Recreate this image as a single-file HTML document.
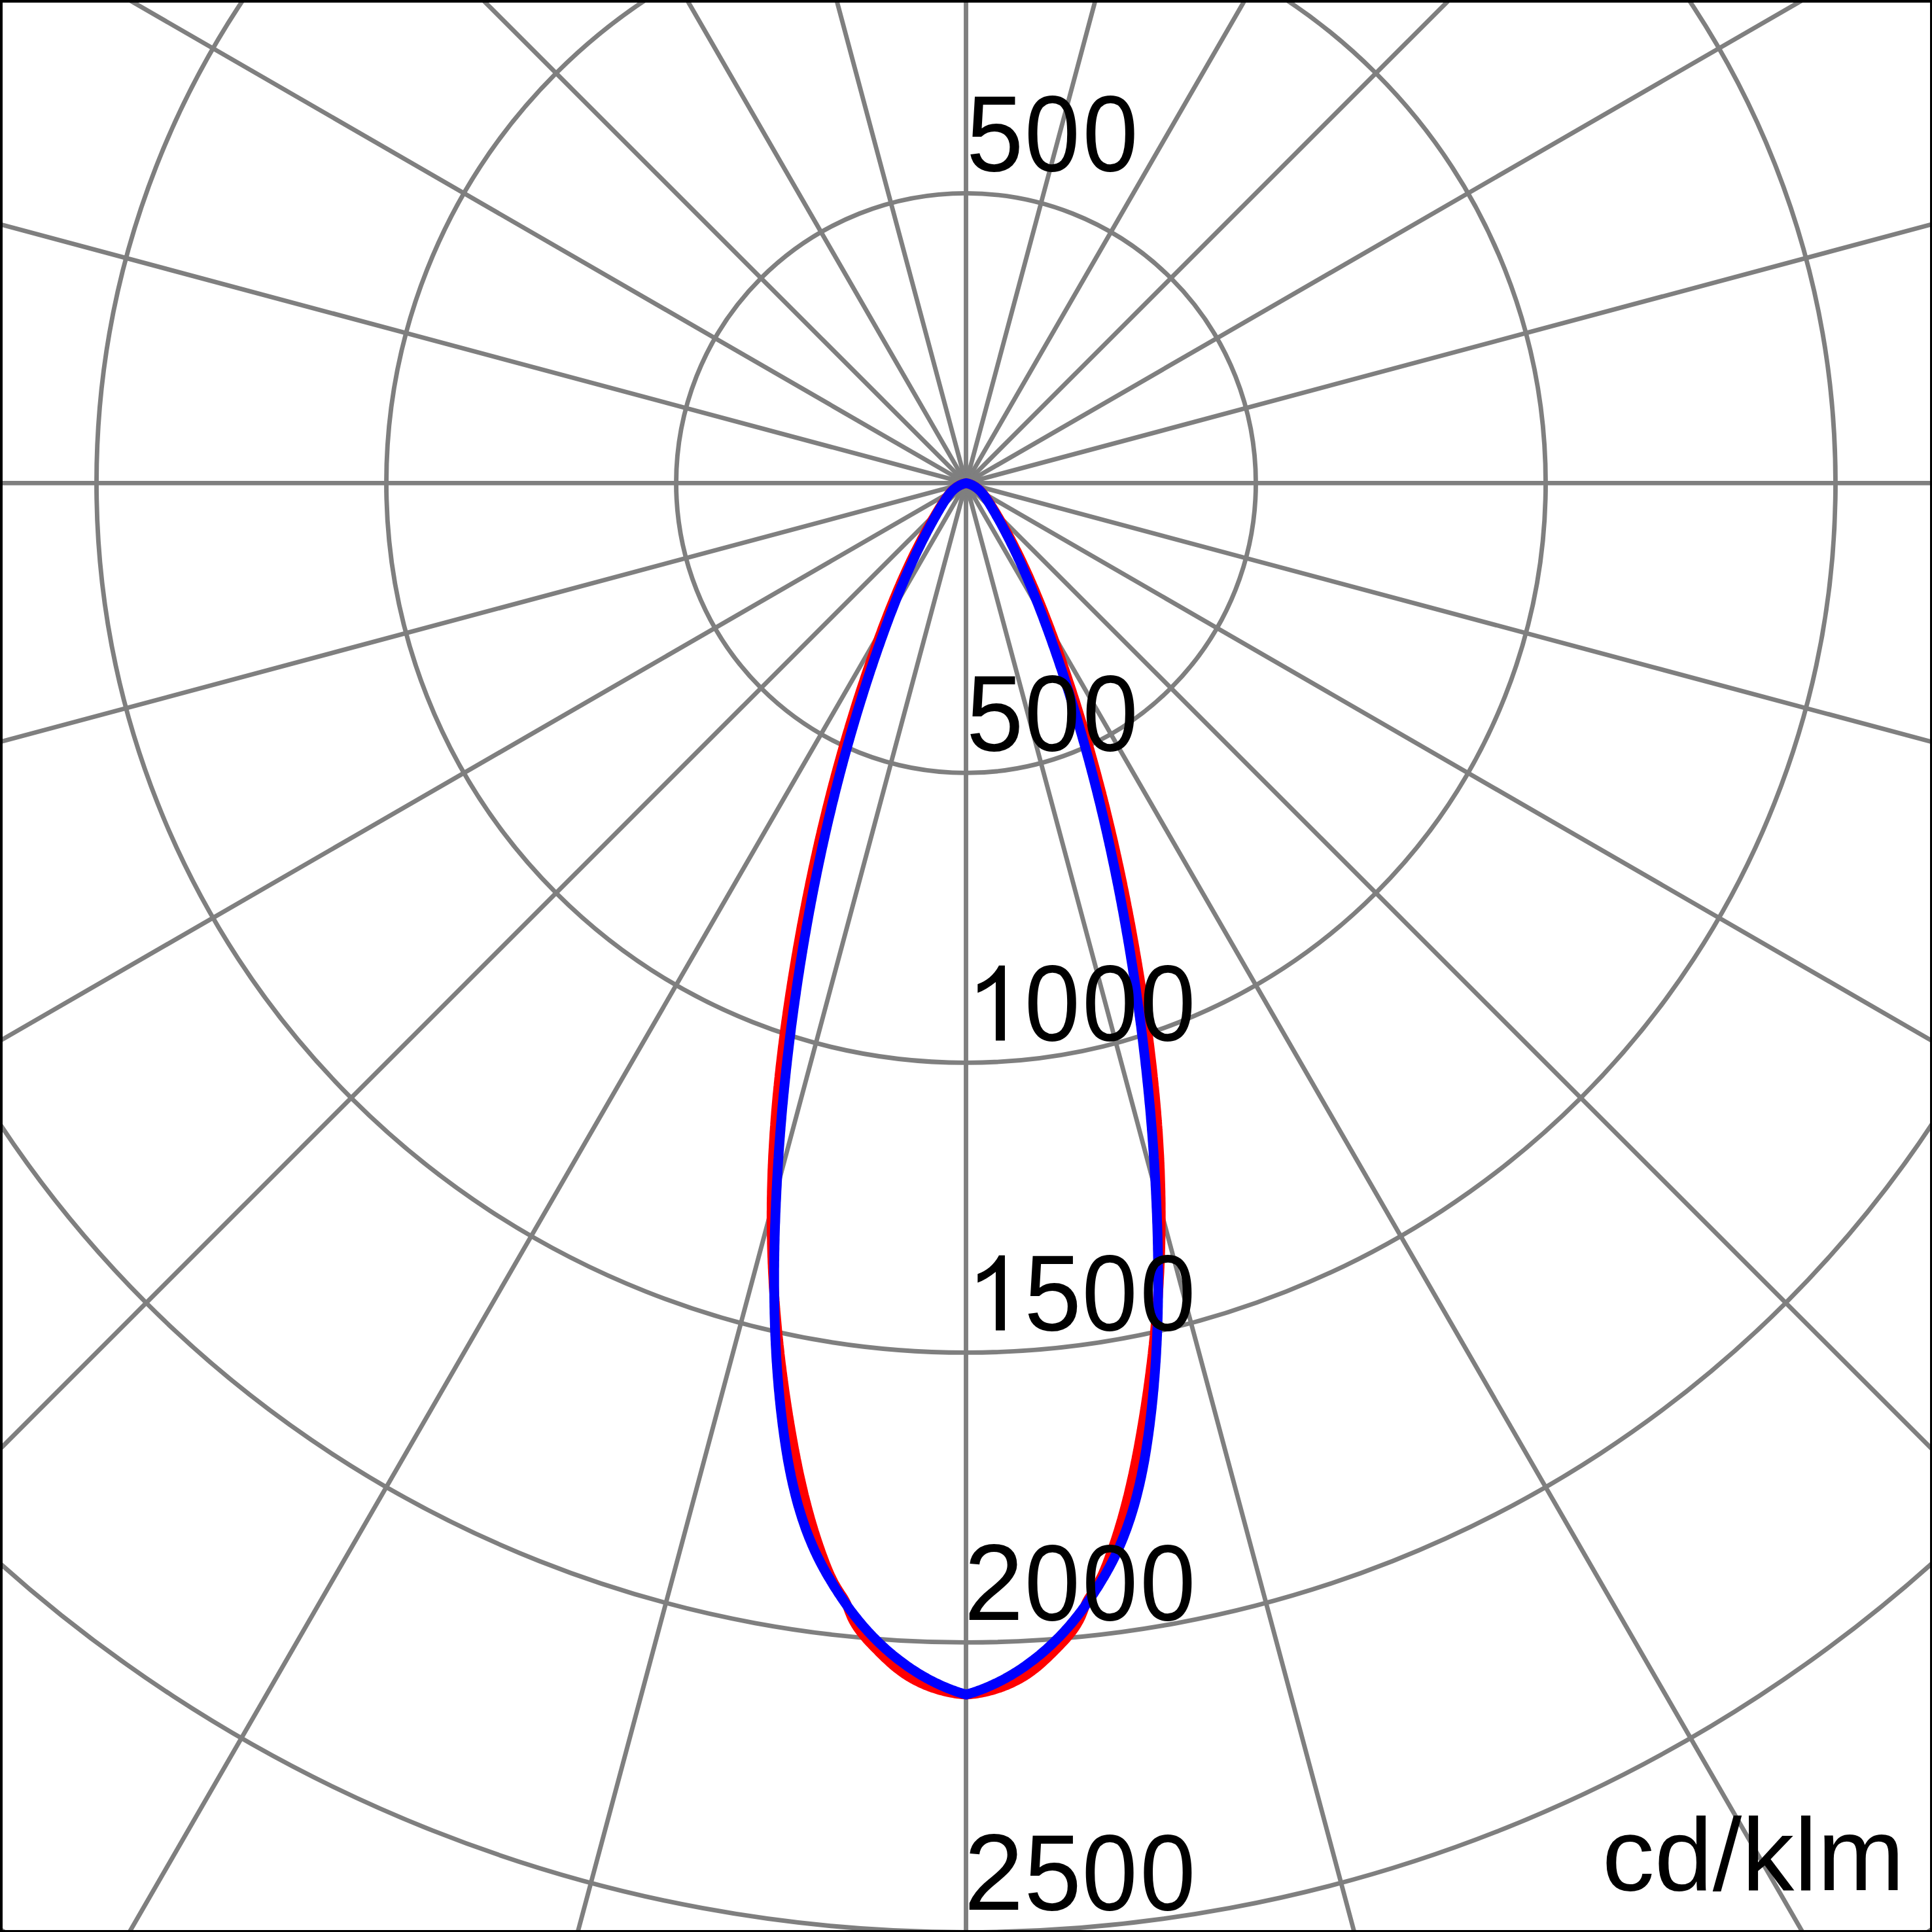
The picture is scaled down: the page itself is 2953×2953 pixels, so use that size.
<!DOCTYPE html>
<html><head><meta charset="utf-8"><style>
html,body{margin:0;padding:0;background:#fff;overflow:hidden;}
svg{display:block;}
text{font-family:"Liberation Sans",sans-serif;font-size:160px;fill:#000;}
</style></head><body>
<svg width="2953" height="2953" viewBox="0 0 2953 2953">
<rect x="0" y="0" width="2953" height="2953" fill="#fff"/>
<g fill="none" stroke="#7f7f7f" stroke-width="6.86">
<circle cx="1476.5" cy="738.4" r="443.00"/>
<circle cx="1476.5" cy="738.4" r="886.00"/>
<circle cx="1476.5" cy="738.4" r="1329.00"/>
<circle cx="1476.5" cy="738.4" r="1772.00"/>
<circle cx="1476.5" cy="738.4" r="2215.00"/>
<circle cx="1476.5" cy="738.4" r="2658.00"/>
<line x1="1476.5" y1="738.4" x2="1476.50" y2="3538.40"/>
<line x1="1476.5" y1="738.4" x2="2201.19" y2="3442.99"/>
<line x1="1476.5" y1="738.4" x2="2876.50" y2="3163.27"/>
<line x1="1476.5" y1="738.4" x2="3456.40" y2="2718.30"/>
<line x1="1476.5" y1="738.4" x2="3901.37" y2="2138.40"/>
<line x1="1476.5" y1="738.4" x2="4181.09" y2="1463.09"/>
<line x1="1476.5" y1="738.4" x2="4276.50" y2="738.40"/>
<line x1="1476.5" y1="738.4" x2="4181.09" y2="13.71"/>
<line x1="1476.5" y1="738.4" x2="3901.37" y2="-661.60"/>
<line x1="1476.5" y1="738.4" x2="3456.40" y2="-1241.50"/>
<line x1="1476.5" y1="738.4" x2="2876.50" y2="-1686.47"/>
<line x1="1476.5" y1="738.4" x2="2201.19" y2="-1966.19"/>
<line x1="1476.5" y1="738.4" x2="1476.50" y2="-2061.60"/>
<line x1="1476.5" y1="738.4" x2="751.81" y2="-1966.19"/>
<line x1="1476.5" y1="738.4" x2="76.50" y2="-1686.47"/>
<line x1="1476.5" y1="738.4" x2="-503.40" y2="-1241.50"/>
<line x1="1476.5" y1="738.4" x2="-948.37" y2="-661.60"/>
<line x1="1476.5" y1="738.4" x2="-1228.09" y2="13.71"/>
<line x1="1476.5" y1="738.4" x2="-1323.50" y2="738.40"/>
<line x1="1476.5" y1="738.4" x2="-1228.09" y2="1463.09"/>
<line x1="1476.5" y1="738.4" x2="-948.37" y2="2138.40"/>
<line x1="1476.5" y1="738.4" x2="-503.40" y2="2718.30"/>
<line x1="1476.5" y1="738.4" x2="76.50" y2="3163.27"/>
<line x1="1476.5" y1="738.4" x2="751.81" y2="3442.99"/>
</g>
<path d="M1476.8,738.4 L1473.3,739.3 L1470.0,740.4 L1467.0,741.7 L1464.1,743.3 L1461.3,745.1 L1458.7,747.1 L1456.3,749.2 L1453.9,751.5 L1451.7,754.0 L1449.6,756.5 L1447.5,759.2 L1445.5,761.9 L1443.6,764.7 L1441.8,767.6 L1439.9,770.5 L1438.1,773.4 L1436.3,776.3 L1434.5,779.2 L1432.7,782.1 L1430.9,785.1 L1429.2,788.0 L1427.5,790.9 L1425.7,793.9 L1424.0,796.9 L1422.3,799.8 L1420.7,802.8 L1419.0,805.8 L1417.3,808.7 L1415.7,811.7 L1414.1,814.7 L1412.4,817.7 L1410.8,820.7 L1409.2,823.7 L1407.7,826.7 L1406.1,829.7 L1404.5,832.8 L1403.0,835.8 L1401.5,838.8 L1399.9,841.9 L1398.4,844.9 L1396.9,847.9 L1395.4,851.0 L1394.0,854.0 L1392.5,857.1 L1391.0,860.2 L1389.6,863.2 L1388.2,866.3 L1386.7,869.4 L1385.3,872.5 L1383.9,875.6 L1382.5,878.7 L1381.1,881.7 L1379.8,884.8 L1378.4,887.9 L1377.0,891.1 L1375.7,894.2 L1374.3,897.3 L1373.0,900.4 L1371.7,903.5 L1370.4,906.6 L1369.1,909.8 L1367.8,912.9 L1366.5,916.0 L1365.2,919.2 L1363.9,922.3 L1362.6,925.5 L1361.4,928.6 L1360.1,931.7 L1358.9,934.9 L1357.6,938.1 L1356.4,941.2 L1355.2,944.4 L1354.0,947.5 L1352.7,950.7 L1351.5,953.9 L1350.3,957.0 L1349.1,960.2 L1347.9,963.4 L1346.8,966.6 L1345.6,969.7 L1344.4,972.9 L1343.2,976.1 L1342.1,979.3 L1340.9,982.5 L1339.8,985.6 L1338.6,988.8 L1337.5,992.0 L1336.3,995.2 L1335.2,998.4 L1334.1,1001.6 L1332.9,1004.8 L1331.8,1008.0 L1330.7,1011.2 L1329.6,1014.4 L1328.5,1017.6 L1327.4,1020.8 L1326.3,1024.0 L1325.2,1027.2 L1324.1,1030.4 L1323.0,1033.6 L1321.9,1036.8 L1320.9,1040.1 L1319.8,1043.3 L1318.7,1046.5 L1317.7,1049.7 L1316.6,1052.9 L1315.5,1056.1 L1314.5,1059.4 L1313.5,1062.6 L1312.4,1065.8 L1311.4,1069.0 L1310.3,1072.3 L1309.3,1075.5 L1308.3,1078.7 L1307.3,1082.0 L1306.3,1085.2 L1305.3,1088.4 L1304.3,1091.7 L1303.3,1094.9 L1302.3,1098.1 L1301.3,1101.4 L1300.3,1104.6 L1299.3,1107.9 L1298.3,1111.1 L1297.4,1114.4 L1296.4,1117.6 L1295.4,1120.9 L1294.5,1124.1 L1293.5,1127.4 L1292.6,1130.6 L1291.6,1133.9 L1290.7,1137.1 L1289.7,1140.4 L1288.8,1143.6 L1287.9,1146.9 L1286.9,1150.2 L1286.0,1153.4 L1285.1,1156.7 L1284.2,1159.9 L1283.3,1163.2 L1282.4,1166.5 L1281.5,1169.7 L1280.6,1173.0 L1279.7,1176.3 L1278.8,1179.6 L1277.9,1182.8 L1277.0,1186.1 L1276.2,1189.4 L1275.3,1192.7 L1274.4,1195.9 L1273.5,1199.2 L1272.7,1202.5 L1271.8,1205.8 L1271.0,1209.0 L1270.1,1212.3 L1269.3,1215.6 L1268.4,1218.9 L1267.6,1222.2 L1266.8,1225.5 L1266.0,1228.8 L1265.1,1232.1 L1264.3,1235.3 L1263.5,1238.6 L1262.7,1241.9 L1261.9,1245.2 L1261.1,1248.5 L1260.3,1251.8 L1259.5,1255.1 L1258.7,1258.4 L1257.9,1261.7 L1257.1,1265.0 L1256.3,1268.3 L1255.6,1271.6 L1254.8,1274.9 L1254.0,1278.2 L1253.2,1281.5 L1252.5,1284.8 L1251.7,1288.1 L1251.0,1291.5 L1250.2,1294.8 L1249.5,1298.1 L1248.7,1301.4 L1248.0,1304.7 L1247.3,1308.0 L1246.5,1311.3 L1245.8,1314.6 L1245.1,1317.9 L1244.4,1321.3 L1243.6,1324.6 L1242.9,1327.9 L1242.2,1331.2 L1241.5,1334.5 L1240.8,1337.9 L1240.1,1341.2 L1239.4,1344.5 L1238.7,1347.8 L1238.0,1351.1 L1237.4,1354.5 L1236.7,1357.8 L1236.0,1361.1 L1235.3,1364.5 L1234.7,1367.8 L1234.0,1371.1 L1233.3,1374.4 L1232.7,1377.8 L1232.0,1381.1 L1231.4,1384.4 L1230.7,1387.8 L1230.1,1391.1 L1229.4,1394.4 L1228.8,1397.8 L1228.2,1401.1 L1227.5,1404.4 L1226.9,1407.8 L1226.3,1411.1 L1225.6,1414.4 L1225.0,1417.8 L1224.4,1421.1 L1223.8,1424.5 L1223.2,1427.8 L1222.6,1431.1 L1222.0,1434.5 L1221.4,1437.8 L1220.8,1441.2 L1220.2,1444.5 L1219.6,1447.9 L1219.0,1451.2 L1218.5,1454.6 L1217.9,1457.9 L1217.3,1461.2 L1216.7,1464.6 L1216.2,1467.9 L1215.6,1471.3 L1215.0,1474.6 L1214.5,1478.0 L1213.9,1481.3 L1213.4,1484.7 L1212.8,1488.0 L1212.3,1491.4 L1211.7,1494.7 L1211.2,1498.1 L1210.7,1501.4 L1210.1,1504.8 L1209.6,1508.2 L1209.1,1511.5 L1208.6,1514.9 L1208.0,1518.2 L1207.5,1521.6 L1207.0,1524.9 L1206.5,1528.3 L1206.0,1531.6 L1205.5,1535.0 L1205.0,1538.4 L1204.5,1541.7 L1204.0,1545.1 L1203.5,1548.4 L1203.1,1551.8 L1202.6,1555.2 L1202.1,1558.5 L1201.6,1561.9 L1201.2,1565.2 L1200.7,1568.6 L1200.2,1572.0 L1199.8,1575.3 L1199.3,1578.7 L1198.9,1582.1 L1198.5,1585.4 L1198.0,1588.8 L1197.6,1592.1 L1197.2,1595.5 L1196.7,1598.9 L1196.3,1602.2 L1195.9,1605.6 L1195.5,1609.0 L1195.1,1612.3 L1194.7,1615.7 L1194.3,1619.1 L1193.9,1622.5 L1193.5,1625.8 L1193.1,1629.2 L1192.7,1632.6 L1192.4,1635.9 L1192.0,1639.3 L1191.6,1642.7 L1191.3,1646.0 L1190.9,1649.4 L1190.6,1652.8 L1190.2,1656.2 L1189.9,1659.5 L1189.5,1662.9 L1189.2,1666.3 L1188.9,1669.7 L1188.5,1673.0 L1188.2,1676.4 L1187.9,1679.8 L1187.6,1683.2 L1187.3,1686.5 L1187.0,1689.9 L1186.7,1693.3 L1186.4,1696.7 L1186.1,1700.0 L1185.9,1703.4 L1185.6,1706.8 L1185.3,1710.2 L1185.1,1713.5 L1184.8,1716.9 L1184.6,1720.3 L1184.3,1723.7 L1184.1,1727.1 L1183.8,1730.4 L1183.6,1733.8 L1183.4,1737.2 L1183.2,1740.6 L1183.0,1744.0 L1182.8,1747.3 L1182.6,1750.7 L1182.4,1754.1 L1182.2,1757.5 L1182.0,1760.9 L1181.8,1764.3 L1181.6,1767.6 L1181.5,1771.0 L1181.3,1774.4 L1181.2,1777.8 L1181.0,1781.2 L1180.9,1784.6 L1180.7,1787.9 L1180.6,1791.3 L1180.5,1794.7 L1180.4,1798.1 L1180.3,1801.5 L1180.2,1804.9 L1180.1,1808.2 L1180.0,1811.6 L1179.9,1815.0 L1179.8,1818.4 L1179.7,1821.8 L1179.7,1825.2 L1179.6,1828.6 L1179.5,1832.0 L1179.5,1835.3 L1179.4,1838.7 L1179.4,1842.1 L1179.4,1845.5 L1179.4,1848.9 L1179.3,1852.3 L1179.3,1855.7 L1179.3,1859.1 L1179.3,1862.4 L1179.4,1865.8 L1179.4,1869.2 L1179.4,1872.6 L1179.4,1876.0 L1179.5,1879.4 L1179.5,1882.8 L1179.6,1886.2 L1179.6,1889.6 L1179.7,1893.0 L1179.8,1896.3 L1179.8,1899.7 L1179.9,1903.1 L1180.0,1906.5 L1180.1,1909.9 L1180.2,1913.3 L1180.3,1916.7 L1180.4,1920.1 L1180.6,1923.5 L1180.7,1926.9 L1180.8,1930.2 L1181.0,1933.6 L1181.1,1937.0 L1181.3,1940.4 L1181.4,1943.8 L1181.6,1947.2 L1181.8,1950.6 L1182.0,1954.0 L1182.2,1957.4 L1182.3,1960.7 L1182.5,1964.1 L1182.7,1967.5 L1183.0,1970.9 L1183.2,1974.3 L1183.4,1977.7 L1183.6,1981.1 L1183.9,1984.5 L1184.1,1987.8 L1184.4,1991.2 L1184.6,1994.6 L1184.9,1998.0 L1185.1,2001.4 L1185.4,2004.8 L1185.7,2008.2 L1186.0,2011.5 L1186.3,2014.9 L1186.6,2018.3 L1186.9,2021.7 L1187.2,2025.1 L1187.5,2028.5 L1187.8,2031.8 L1188.1,2035.2 L1188.5,2038.6 L1188.8,2042.0 L1189.2,2045.4 L1189.5,2048.7 L1189.9,2052.1 L1190.2,2055.5 L1190.6,2058.9 L1191.0,2062.2 L1191.4,2065.6 L1191.7,2069.0 L1192.1,2072.4 L1192.5,2075.7 L1192.9,2079.1 L1193.3,2082.5 L1193.7,2085.9 L1194.2,2089.2 L1194.6,2092.6 L1195.0,2096.0 L1195.4,2099.3 L1195.9,2102.7 L1196.3,2106.1 L1196.8,2109.4 L1197.2,2112.8 L1197.7,2116.2 L1198.2,2119.5 L1198.6,2122.9 L1199.1,2126.3 L1199.6,2129.6 L1200.1,2133.0 L1200.6,2136.3 L1201.1,2139.7 L1201.6,2143.0 L1202.1,2146.4 L1202.6,2149.8 L1203.1,2153.1 L1203.7,2156.5 L1204.2,2159.8 L1204.7,2163.2 L1205.3,2166.5 L1205.8,2169.9 L1206.4,2173.2 L1206.9,2176.6 L1207.5,2179.9 L1208.1,2183.3 L1208.6,2186.6 L1209.2,2189.9 L1209.8,2193.3 L1210.4,2196.6 L1211.0,2200.0 L1211.6,2203.3 L1212.2,2206.6 L1212.8,2210.0 L1213.4,2213.3 L1214.0,2216.6 L1214.7,2220.0 L1215.3,2223.3 L1216.0,2226.6 L1216.6,2229.9 L1217.3,2233.3 L1218.0,2236.6 L1218.6,2239.9 L1219.3,2243.2 L1220.0,2246.5 L1220.7,2249.9 L1221.4,2253.2 L1222.1,2256.5 L1222.9,2259.8 L1223.6,2263.1 L1224.4,2266.4 L1225.1,2269.7 L1225.9,2273.0 L1226.7,2276.3 L1227.4,2279.6 L1228.2,2282.9 L1229.0,2286.2 L1229.9,2289.4 L1230.7,2292.7 L1231.5,2296.0 L1232.4,2299.3 L1233.2,2302.6 L1234.1,2305.8 L1235.0,2309.1 L1235.9,2312.4 L1236.8,2315.6 L1237.7,2318.9 L1238.6,2322.2 L1239.6,2325.4 L1240.5,2328.7 L1241.5,2331.9 L1242.5,2335.2 L1243.4,2338.4 L1244.4,2341.6 L1245.5,2344.9 L1246.5,2348.1 L1247.5,2351.3 L1248.6,2354.6 L1249.7,2357.8 L1250.7,2361.0 L1251.8,2364.2 L1253.0,2367.4 L1254.1,2370.6 L1255.2,2373.8 L1256.4,2377.0 L1257.6,2380.2 L1258.7,2383.4 L1260.0,2386.6 L1261.2,2389.8 L1262.4,2393.0 L1263.7,2396.1 L1265.0,2399.3 L1266.3,2402.4 L1267.7,2405.5 L1269.1,2408.6 L1270.6,2411.6 L1272.1,2414.7 L1273.6,2417.7 L1275.2,2420.7 L1276.9,2423.6 L1278.6,2426.6 L1280.3,2429.4 L1282.2,2432.3 L1284.0,2435.1 L1285.9,2437.9 L1287.7,2440.8 L1289.5,2443.6 L1291.2,2446.5 L1292.8,2449.5 L1294.2,2452.6 L1295.6,2455.7 L1296.8,2458.9 L1298.0,2462.1 L1299.2,2465.3 L1300.5,2468.5 L1301.8,2471.6 L1303.3,2474.6 L1304.8,2477.6 L1306.5,2480.6 L1308.2,2483.5 L1310.0,2486.3 L1311.9,2489.1 L1313.9,2491.8 L1315.9,2494.5 L1318.0,2497.1 L1320.1,2499.7 L1322.3,2502.3 L1324.5,2504.9 L1326.8,2507.4 L1329.1,2509.9 L1331.5,2512.4 L1333.8,2514.8 L1336.2,2517.3 L1338.6,2519.7 L1341.0,2522.1 L1343.3,2524.5 L1345.7,2526.9 L1348.2,2529.3 L1350.6,2531.7 L1353.0,2534.0 L1355.5,2536.3 L1358.0,2538.6 L1360.5,2540.9 L1363.0,2543.1 L1365.5,2545.3 L1368.1,2547.5 L1370.7,2549.6 L1373.4,2551.7 L1376.0,2553.7 L1378.8,2555.7 L1381.5,2557.6 L1384.3,2559.5 L1387.2,2561.3 L1390.1,2563.1 L1393.0,2564.8 L1395.9,2566.5 L1398.9,2568.1 L1402.0,2569.7 L1405.0,2571.2 L1408.1,2572.6 L1411.2,2574.0 L1414.3,2575.4 L1417.5,2576.6 L1420.7,2577.9 L1423.9,2579.1 L1427.1,2580.2 L1430.4,2581.2 L1433.6,2582.3 L1436.9,2583.2 L1440.2,2584.1 L1443.5,2584.9 L1446.8,2585.7 L1450.1,2586.5 L1453.4,2587.1 L1456.8,2587.7 L1460.1,2588.3 L1463.4,2588.8 L1466.8,2589.2 L1470.1,2589.6 L1473.4,2589.9 L1476.8,2590.2 L1480.1,2589.9 L1483.4,2589.6 L1486.7,2589.2 L1490.1,2588.8 L1493.4,2588.3 L1496.7,2587.7 L1500.1,2587.1 L1503.4,2586.5 L1506.7,2585.7 L1510.0,2584.9 L1513.3,2584.1 L1516.6,2583.2 L1519.9,2582.3 L1523.1,2581.2 L1526.4,2580.2 L1529.6,2579.1 L1532.8,2577.9 L1536.0,2576.6 L1539.2,2575.4 L1542.3,2574.0 L1545.4,2572.6 L1548.5,2571.2 L1551.5,2569.7 L1554.6,2568.1 L1557.6,2566.5 L1560.5,2564.8 L1563.4,2563.1 L1566.3,2561.3 L1569.2,2559.5 L1572.0,2557.6 L1574.7,2555.7 L1577.5,2553.7 L1580.1,2551.7 L1582.8,2549.6 L1585.4,2547.5 L1588.0,2545.3 L1590.5,2543.1 L1593.0,2540.9 L1595.5,2538.6 L1598.0,2536.3 L1600.5,2534.0 L1602.9,2531.7 L1605.3,2529.3 L1607.8,2526.9 L1610.2,2524.5 L1612.5,2522.1 L1614.9,2519.7 L1617.3,2517.3 L1619.7,2514.8 L1622.0,2512.4 L1624.4,2509.9 L1626.7,2507.4 L1629.0,2504.9 L1631.2,2502.3 L1633.4,2499.7 L1635.5,2497.1 L1637.6,2494.5 L1639.6,2491.8 L1641.6,2489.1 L1643.5,2486.3 L1645.3,2483.5 L1647.0,2480.6 L1648.7,2477.6 L1650.2,2474.6 L1651.7,2471.6 L1653.0,2468.5 L1654.3,2465.3 L1655.5,2462.1 L1656.7,2458.9 L1657.9,2455.7 L1659.3,2452.6 L1660.7,2449.5 L1662.3,2446.5 L1664.0,2443.6 L1665.8,2440.8 L1667.6,2437.9 L1669.5,2435.1 L1671.3,2432.3 L1673.2,2429.4 L1674.9,2426.6 L1676.6,2423.6 L1678.3,2420.7 L1679.9,2417.7 L1681.4,2414.7 L1682.9,2411.6 L1684.4,2408.6 L1685.8,2405.5 L1687.2,2402.4 L1688.5,2399.3 L1689.8,2396.1 L1691.1,2393.0 L1692.3,2389.8 L1693.5,2386.6 L1694.8,2383.4 L1695.9,2380.2 L1697.1,2377.0 L1698.3,2373.8 L1699.4,2370.6 L1700.5,2367.4 L1701.7,2364.2 L1702.8,2361.0 L1703.8,2357.8 L1704.9,2354.6 L1706.0,2351.3 L1707.0,2348.1 L1708.0,2344.9 L1709.1,2341.6 L1710.1,2338.4 L1711.0,2335.2 L1712.0,2331.9 L1713.0,2328.7 L1713.9,2325.4 L1714.9,2322.2 L1715.8,2318.9 L1716.7,2315.6 L1717.6,2312.4 L1718.5,2309.1 L1719.4,2305.8 L1720.3,2302.6 L1721.1,2299.3 L1722.0,2296.0 L1722.8,2292.7 L1723.6,2289.4 L1724.5,2286.2 L1725.3,2282.9 L1726.1,2279.6 L1726.8,2276.3 L1727.6,2273.0 L1728.4,2269.7 L1729.1,2266.4 L1729.9,2263.1 L1730.6,2259.8 L1731.4,2256.5 L1732.1,2253.2 L1732.8,2249.9 L1733.5,2246.5 L1734.2,2243.2 L1734.9,2239.9 L1735.5,2236.6 L1736.2,2233.3 L1736.9,2229.9 L1737.5,2226.6 L1738.2,2223.3 L1738.8,2220.0 L1739.5,2216.6 L1740.1,2213.3 L1740.7,2210.0 L1741.3,2206.6 L1741.9,2203.3 L1742.5,2200.0 L1743.1,2196.6 L1743.7,2193.3 L1744.3,2189.9 L1744.9,2186.6 L1745.4,2183.3 L1746.0,2179.9 L1746.6,2176.6 L1747.1,2173.2 L1747.7,2169.9 L1748.2,2166.5 L1748.8,2163.2 L1749.3,2159.8 L1749.8,2156.5 L1750.4,2153.1 L1750.9,2149.8 L1751.4,2146.4 L1751.9,2143.0 L1752.4,2139.7 L1752.9,2136.3 L1753.4,2133.0 L1753.9,2129.6 L1754.4,2126.3 L1754.9,2122.9 L1755.3,2119.5 L1755.8,2116.2 L1756.3,2112.8 L1756.7,2109.4 L1757.2,2106.1 L1757.6,2102.7 L1758.1,2099.3 L1758.5,2096.0 L1758.9,2092.6 L1759.3,2089.2 L1759.8,2085.9 L1760.2,2082.5 L1760.6,2079.1 L1761.0,2075.7 L1761.4,2072.4 L1761.8,2069.0 L1762.1,2065.6 L1762.5,2062.2 L1762.9,2058.9 L1763.3,2055.5 L1763.6,2052.1 L1764.0,2048.7 L1764.3,2045.4 L1764.7,2042.0 L1765.0,2038.6 L1765.4,2035.2 L1765.7,2031.8 L1766.0,2028.5 L1766.3,2025.1 L1766.6,2021.7 L1766.9,2018.3 L1767.2,2014.9 L1767.5,2011.5 L1767.8,2008.2 L1768.1,2004.8 L1768.4,2001.4 L1768.6,1998.0 L1768.9,1994.6 L1769.1,1991.2 L1769.4,1987.8 L1769.6,1984.5 L1769.9,1981.1 L1770.1,1977.7 L1770.3,1974.3 L1770.5,1970.9 L1770.8,1967.5 L1771.0,1964.1 L1771.2,1960.7 L1771.3,1957.4 L1771.5,1954.0 L1771.7,1950.6 L1771.9,1947.2 L1772.1,1943.8 L1772.2,1940.4 L1772.4,1937.0 L1772.5,1933.6 L1772.7,1930.2 L1772.8,1926.9 L1772.9,1923.5 L1773.1,1920.1 L1773.2,1916.7 L1773.3,1913.3 L1773.4,1909.9 L1773.5,1906.5 L1773.6,1903.1 L1773.7,1899.7 L1773.7,1896.3 L1773.8,1893.0 L1773.9,1889.6 L1773.9,1886.2 L1774.0,1882.8 L1774.0,1879.4 L1774.1,1876.0 L1774.1,1872.6 L1774.1,1869.2 L1774.1,1865.8 L1774.2,1862.4 L1774.2,1859.1 L1774.2,1855.7 L1774.2,1852.3 L1774.1,1848.9 L1774.1,1845.5 L1774.1,1842.1 L1774.1,1838.7 L1774.0,1835.3 L1774.0,1832.0 L1773.9,1828.6 L1773.8,1825.2 L1773.8,1821.8 L1773.7,1818.4 L1773.6,1815.0 L1773.5,1811.6 L1773.4,1808.2 L1773.3,1804.9 L1773.2,1801.5 L1773.1,1798.1 L1773.0,1794.7 L1772.9,1791.3 L1772.8,1787.9 L1772.6,1784.6 L1772.5,1781.2 L1772.3,1777.8 L1772.2,1774.4 L1772.0,1771.0 L1771.9,1767.6 L1771.7,1764.3 L1771.5,1760.9 L1771.3,1757.5 L1771.1,1754.1 L1770.9,1750.7 L1770.7,1747.3 L1770.5,1744.0 L1770.3,1740.6 L1770.1,1737.2 L1769.9,1733.8 L1769.7,1730.4 L1769.4,1727.1 L1769.2,1723.7 L1768.9,1720.3 L1768.7,1716.9 L1768.4,1713.5 L1768.2,1710.2 L1767.9,1706.8 L1767.6,1703.4 L1767.4,1700.0 L1767.1,1696.7 L1766.8,1693.3 L1766.5,1689.9 L1766.2,1686.5 L1765.9,1683.2 L1765.6,1679.8 L1765.3,1676.4 L1765.0,1673.0 L1764.6,1669.7 L1764.3,1666.3 L1764.0,1662.9 L1763.6,1659.5 L1763.3,1656.2 L1762.9,1652.8 L1762.6,1649.4 L1762.2,1646.0 L1761.9,1642.7 L1761.5,1639.3 L1761.1,1635.9 L1760.8,1632.6 L1760.4,1629.2 L1760.0,1625.8 L1759.6,1622.5 L1759.2,1619.1 L1758.8,1615.7 L1758.4,1612.3 L1758.0,1609.0 L1757.6,1605.6 L1757.2,1602.2 L1756.8,1598.9 L1756.3,1595.5 L1755.9,1592.1 L1755.5,1588.8 L1755.0,1585.4 L1754.6,1582.1 L1754.2,1578.7 L1753.7,1575.3 L1753.3,1572.0 L1752.8,1568.6 L1752.3,1565.2 L1751.9,1561.9 L1751.4,1558.5 L1750.9,1555.2 L1750.4,1551.8 L1750.0,1548.4 L1749.5,1545.1 L1749.0,1541.7 L1748.5,1538.4 L1748.0,1535.0 L1747.5,1531.6 L1747.0,1528.3 L1746.5,1524.9 L1746.0,1521.6 L1745.5,1518.2 L1744.9,1514.9 L1744.4,1511.5 L1743.9,1508.2 L1743.4,1504.8 L1742.8,1501.4 L1742.3,1498.1 L1741.8,1494.7 L1741.2,1491.4 L1740.7,1488.0 L1740.1,1484.7 L1739.6,1481.3 L1739.0,1478.0 L1738.5,1474.6 L1737.9,1471.3 L1737.3,1467.9 L1736.8,1464.6 L1736.2,1461.2 L1735.6,1457.9 L1735.0,1454.6 L1734.5,1451.2 L1733.9,1447.9 L1733.3,1444.5 L1732.7,1441.2 L1732.1,1437.8 L1731.5,1434.5 L1730.9,1431.1 L1730.3,1427.8 L1729.7,1424.5 L1729.1,1421.1 L1728.5,1417.8 L1727.9,1414.4 L1727.2,1411.1 L1726.6,1407.8 L1726.0,1404.4 L1725.3,1401.1 L1724.7,1397.8 L1724.1,1394.4 L1723.4,1391.1 L1722.8,1387.8 L1722.1,1384.4 L1721.5,1381.1 L1720.8,1377.8 L1720.2,1374.4 L1719.5,1371.1 L1718.8,1367.8 L1718.2,1364.5 L1717.5,1361.1 L1716.8,1357.8 L1716.1,1354.5 L1715.5,1351.1 L1714.8,1347.8 L1714.1,1344.5 L1713.4,1341.2 L1712.7,1337.9 L1712.0,1334.5 L1711.3,1331.2 L1710.6,1327.9 L1709.9,1324.6 L1709.1,1321.3 L1708.4,1317.9 L1707.7,1314.6 L1707.0,1311.3 L1706.2,1308.0 L1705.5,1304.7 L1704.8,1301.4 L1704.0,1298.1 L1703.3,1294.8 L1702.5,1291.5 L1701.8,1288.1 L1701.0,1284.8 L1700.3,1281.5 L1699.5,1278.2 L1698.7,1274.9 L1697.9,1271.6 L1697.2,1268.3 L1696.4,1265.0 L1695.6,1261.7 L1694.8,1258.4 L1694.0,1255.1 L1693.2,1251.8 L1692.4,1248.5 L1691.6,1245.2 L1690.8,1241.9 L1690.0,1238.6 L1689.2,1235.3 L1688.4,1232.1 L1687.5,1228.8 L1686.7,1225.5 L1685.9,1222.2 L1685.1,1218.9 L1684.2,1215.6 L1683.4,1212.3 L1682.5,1209.0 L1681.7,1205.8 L1680.8,1202.5 L1680.0,1199.2 L1679.1,1195.9 L1678.2,1192.7 L1677.3,1189.4 L1676.5,1186.1 L1675.6,1182.8 L1674.7,1179.6 L1673.8,1176.3 L1672.9,1173.0 L1672.0,1169.7 L1671.1,1166.5 L1670.2,1163.2 L1669.3,1159.9 L1668.4,1156.7 L1667.5,1153.4 L1666.6,1150.2 L1665.6,1146.9 L1664.7,1143.6 L1663.8,1140.4 L1662.8,1137.1 L1661.9,1133.9 L1660.9,1130.6 L1660.0,1127.4 L1659.0,1124.1 L1658.1,1120.9 L1657.1,1117.6 L1656.1,1114.4 L1655.2,1111.1 L1654.2,1107.9 L1653.2,1104.6 L1652.2,1101.4 L1651.2,1098.1 L1650.2,1094.9 L1649.2,1091.7 L1648.2,1088.4 L1647.2,1085.2 L1646.2,1082.0 L1645.2,1078.7 L1644.2,1075.5 L1643.2,1072.3 L1642.1,1069.0 L1641.1,1065.8 L1640.0,1062.6 L1639.0,1059.4 L1638.0,1056.1 L1636.9,1052.9 L1635.8,1049.7 L1634.8,1046.5 L1633.7,1043.3 L1632.6,1040.1 L1631.6,1036.8 L1630.5,1033.6 L1629.4,1030.4 L1628.3,1027.2 L1627.2,1024.0 L1626.1,1020.8 L1625.0,1017.6 L1623.9,1014.4 L1622.8,1011.2 L1621.7,1008.0 L1620.6,1004.8 L1619.4,1001.6 L1618.3,998.4 L1617.2,995.2 L1616.0,992.0 L1614.9,988.8 L1613.7,985.6 L1612.6,982.5 L1611.4,979.3 L1610.3,976.1 L1609.1,972.9 L1607.9,969.7 L1606.7,966.6 L1605.6,963.4 L1604.4,960.2 L1603.2,957.0 L1602.0,953.9 L1600.8,950.7 L1599.5,947.5 L1598.3,944.4 L1597.1,941.2 L1595.9,938.1 L1594.6,934.9 L1593.4,931.7 L1592.1,928.6 L1590.9,925.5 L1589.6,922.3 L1588.3,919.2 L1587.0,916.0 L1585.7,912.9 L1584.4,909.8 L1583.1,906.6 L1581.8,903.5 L1580.5,900.4 L1579.2,897.3 L1577.8,894.2 L1576.5,891.1 L1575.1,887.9 L1573.7,884.8 L1572.4,881.7 L1571.0,878.7 L1569.6,875.6 L1568.2,872.5 L1566.8,869.4 L1565.3,866.3 L1563.9,863.2 L1562.5,860.2 L1561.0,857.1 L1559.5,854.0 L1558.1,851.0 L1556.6,847.9 L1555.1,844.9 L1553.6,841.9 L1552.0,838.8 L1550.5,835.8 L1549.0,832.8 L1547.4,829.7 L1545.8,826.7 L1544.3,823.7 L1542.7,820.7 L1541.1,817.7 L1539.4,814.7 L1537.8,811.7 L1536.2,808.7 L1534.5,805.8 L1532.8,802.8 L1531.2,799.8 L1529.5,796.9 L1527.8,793.9 L1526.0,790.9 L1524.3,788.0 L1522.6,785.1 L1520.8,782.1 L1519.0,779.2 L1517.2,776.3 L1515.4,773.4 L1513.6,770.5 L1511.7,767.6 L1509.9,764.7 L1508.0,761.9 L1506.0,759.2 L1503.9,756.5 L1501.8,754.0 L1499.6,751.5 L1497.2,749.2 L1494.8,747.1 L1492.2,745.1 L1489.4,743.3 L1486.5,741.7 L1483.5,740.4 L1480.2,739.3 L1476.8,738.4" fill="none" stroke="#ff0000" stroke-width="14.9" stroke-linejoin="round" stroke-linecap="round"/>
<path d="M1476.8,738.4 L1473.3,739.3 L1470.0,740.4 L1467.0,741.8 L1464.1,743.4 L1461.4,745.2 L1458.9,747.2 L1456.4,749.4 L1454.2,751.7 L1452.0,754.2 L1449.9,756.8 L1447.9,759.4 L1446.0,762.2 L1444.2,765.0 L1442.4,767.9 L1440.6,770.8 L1438.8,773.7 L1437.1,776.6 L1435.4,779.6 L1433.6,782.5 L1431.9,785.4 L1430.3,788.4 L1428.6,791.3 L1426.9,794.3 L1425.3,797.3 L1423.6,800.2 L1422.0,803.2 L1420.4,806.2 L1418.8,809.2 L1417.2,812.2 L1415.7,815.2 L1414.1,818.2 L1412.6,821.2 L1411.0,824.2 L1409.5,827.2 L1408.0,830.3 L1406.5,833.3 L1405.0,836.3 L1403.5,839.4 L1402.0,842.4 L1400.6,845.5 L1399.1,848.5 L1397.7,851.6 L1396.3,854.7 L1394.8,857.7 L1393.4,860.8 L1392.0,863.9 L1390.6,867.0 L1389.3,870.0 L1387.9,873.1 L1386.5,876.2 L1385.2,879.3 L1383.8,882.4 L1382.5,885.5 L1381.2,888.6 L1379.9,891.8 L1378.5,894.9 L1377.2,898.0 L1376.0,901.1 L1374.7,904.2 L1373.4,907.4 L1372.1,910.5 L1370.9,913.6 L1369.6,916.8 L1368.4,919.9 L1367.1,923.1 L1365.9,926.2 L1364.7,929.4 L1363.5,932.5 L1362.2,935.7 L1361.0,938.8 L1359.8,942.0 L1358.6,945.2 L1357.5,948.3 L1356.3,951.5 L1355.1,954.7 L1353.9,957.8 L1352.8,961.0 L1351.6,964.2 L1350.5,967.4 L1349.3,970.6 L1348.2,973.7 L1347.0,976.9 L1345.9,980.1 L1344.8,983.3 L1343.7,986.5 L1342.5,989.7 L1341.4,992.9 L1340.3,996.1 L1339.2,999.3 L1338.1,1002.5 L1337.0,1005.7 L1335.9,1008.9 L1334.8,1012.1 L1333.8,1015.3 L1332.7,1018.5 L1331.6,1021.7 L1330.5,1024.9 L1329.5,1028.1 L1328.4,1031.3 L1327.4,1034.5 L1326.3,1037.7 L1325.3,1040.9 L1324.2,1044.1 L1323.2,1047.4 L1322.2,1050.6 L1321.1,1053.8 L1320.1,1057.0 L1319.1,1060.2 L1318.1,1063.5 L1317.1,1066.7 L1316.1,1069.9 L1315.1,1073.1 L1314.1,1076.4 L1313.1,1079.6 L1312.1,1082.8 L1311.1,1086.1 L1310.1,1089.3 L1309.1,1092.5 L1308.2,1095.8 L1307.2,1099.0 L1306.2,1102.2 L1305.3,1105.5 L1304.3,1108.7 L1303.4,1112.0 L1302.4,1115.2 L1301.5,1118.5 L1300.5,1121.7 L1299.6,1125.0 L1298.7,1128.2 L1297.8,1131.5 L1296.8,1134.7 L1295.9,1138.0 L1295.0,1141.2 L1294.1,1144.5 L1293.2,1147.7 L1292.3,1151.0 L1291.4,1154.2 L1290.5,1157.5 L1289.6,1160.8 L1288.7,1164.0 L1287.9,1167.3 L1287.0,1170.6 L1286.1,1173.8 L1285.3,1177.1 L1284.4,1180.4 L1283.5,1183.6 L1282.7,1186.9 L1281.8,1190.2 L1281.0,1193.4 L1280.1,1196.7 L1279.3,1200.0 L1278.5,1203.3 L1277.6,1206.5 L1276.8,1209.8 L1276.0,1213.1 L1275.2,1216.4 L1274.4,1219.6 L1273.6,1222.9 L1272.7,1226.2 L1271.9,1229.5 L1271.1,1232.8 L1270.4,1236.1 L1269.6,1239.4 L1268.8,1242.6 L1268.0,1245.9 L1267.2,1249.2 L1266.4,1252.5 L1265.7,1255.8 L1264.9,1259.1 L1264.1,1262.4 L1263.4,1265.7 L1262.6,1269.0 L1261.9,1272.3 L1261.1,1275.6 L1260.4,1278.9 L1259.7,1282.2 L1258.9,1285.5 L1258.2,1288.8 L1257.5,1292.1 L1256.7,1295.4 L1256.0,1298.7 L1255.3,1302.0 L1254.6,1305.3 L1253.9,1308.6 L1253.2,1311.9 L1252.5,1315.2 L1251.8,1318.5 L1251.1,1321.8 L1250.4,1325.1 L1249.7,1328.5 L1249.0,1331.8 L1248.3,1335.1 L1247.7,1338.4 L1247.0,1341.7 L1246.3,1345.0 L1245.7,1348.3 L1245.0,1351.6 L1244.3,1355.0 L1243.7,1358.3 L1243.0,1361.6 L1242.4,1364.9 L1241.7,1368.2 L1241.1,1371.6 L1240.5,1374.9 L1239.8,1378.2 L1239.2,1381.5 L1238.6,1384.9 L1238.0,1388.2 L1237.3,1391.5 L1236.7,1394.8 L1236.1,1398.2 L1235.5,1401.5 L1234.9,1404.8 L1234.3,1408.1 L1233.7,1411.5 L1233.1,1414.8 L1232.5,1418.1 L1232.0,1421.5 L1231.4,1424.8 L1230.8,1428.1 L1230.2,1431.5 L1229.6,1434.8 L1229.1,1438.1 L1228.5,1441.5 L1227.9,1444.8 L1227.4,1448.1 L1226.8,1451.5 L1226.3,1454.8 L1225.7,1458.1 L1225.2,1461.5 L1224.7,1464.8 L1224.1,1468.2 L1223.6,1471.5 L1223.0,1474.8 L1222.5,1478.2 L1222.0,1481.5 L1221.5,1484.9 L1221.0,1488.2 L1220.4,1491.5 L1219.9,1494.9 L1219.4,1498.2 L1218.9,1501.6 L1218.4,1504.9 L1217.9,1508.3 L1217.4,1511.6 L1216.9,1515.0 L1216.5,1518.3 L1216.0,1521.6 L1215.5,1525.0 L1215.0,1528.3 L1214.5,1531.7 L1214.1,1535.0 L1213.6,1538.4 L1213.1,1541.7 L1212.7,1545.1 L1212.2,1548.4 L1211.8,1551.8 L1211.3,1555.1 L1210.9,1558.5 L1210.4,1561.8 L1210.0,1565.2 L1209.5,1568.5 L1209.1,1571.9 L1208.7,1575.3 L1208.3,1578.6 L1207.8,1582.0 L1207.4,1585.3 L1207.0,1588.7 L1206.6,1592.0 L1206.2,1595.4 L1205.8,1598.7 L1205.4,1602.1 L1205.0,1605.5 L1204.6,1608.8 L1204.2,1612.2 L1203.8,1615.5 L1203.4,1618.9 L1203.0,1622.2 L1202.7,1625.6 L1202.3,1629.0 L1201.9,1632.3 L1201.5,1635.7 L1201.2,1639.0 L1200.8,1642.4 L1200.5,1645.8 L1200.1,1649.1 L1199.8,1652.5 L1199.4,1655.8 L1199.1,1659.2 L1198.7,1662.6 L1198.4,1665.9 L1198.1,1669.3 L1197.7,1672.7 L1197.4,1676.0 L1197.1,1679.4 L1196.8,1682.8 L1196.5,1686.1 L1196.1,1689.5 L1195.8,1692.9 L1195.5,1696.2 L1195.2,1699.6 L1194.9,1703.0 L1194.6,1706.3 L1194.4,1709.7 L1194.1,1713.1 L1193.8,1716.4 L1193.5,1719.8 L1193.2,1723.2 L1193.0,1726.5 L1192.7,1729.9 L1192.4,1733.3 L1192.2,1736.6 L1191.9,1740.0 L1191.7,1743.4 L1191.4,1746.7 L1191.2,1750.1 L1190.9,1753.5 L1190.7,1756.9 L1190.4,1760.2 L1190.2,1763.6 L1190.0,1767.0 L1189.8,1770.3 L1189.5,1773.7 L1189.3,1777.1 L1189.1,1780.5 L1188.9,1783.8 L1188.7,1787.2 L1188.5,1790.6 L1188.3,1794.0 L1188.1,1797.3 L1187.9,1800.7 L1187.7,1804.1 L1187.5,1807.5 L1187.4,1810.8 L1187.2,1814.2 L1187.0,1817.6 L1186.8,1821.0 L1186.7,1824.3 L1186.5,1827.7 L1186.4,1831.1 L1186.2,1834.5 L1186.0,1837.8 L1185.9,1841.2 L1185.8,1844.6 L1185.6,1848.0 L1185.5,1851.3 L1185.3,1854.7 L1185.2,1858.1 L1185.1,1861.5 L1185.0,1864.8 L1184.9,1868.2 L1184.7,1871.6 L1184.6,1875.0 L1184.5,1878.4 L1184.4,1881.7 L1184.3,1885.1 L1184.2,1888.5 L1184.1,1891.9 L1184.1,1895.2 L1184.0,1898.6 L1183.9,1902.0 L1183.8,1905.4 L1183.8,1908.8 L1183.7,1912.1 L1183.6,1915.5 L1183.6,1918.9 L1183.5,1922.3 L1183.5,1925.7 L1183.4,1929.0 L1183.4,1932.4 L1183.4,1935.8 L1183.3,1939.2 L1183.3,1942.5 L1183.3,1945.9 L1183.3,1949.3 L1183.3,1952.7 L1183.3,1956.1 L1183.3,1959.4 L1183.3,1962.8 L1183.3,1966.2 L1183.3,1969.6 L1183.3,1973.0 L1183.4,1976.3 L1183.4,1979.7 L1183.4,1983.1 L1183.5,1986.5 L1183.5,1989.8 L1183.6,1993.2 L1183.6,1996.6 L1183.7,2000.0 L1183.8,2003.4 L1183.8,2006.7 L1183.9,2010.1 L1184.0,2013.5 L1184.1,2016.9 L1184.2,2020.2 L1184.3,2023.6 L1184.4,2027.0 L1184.5,2030.4 L1184.7,2033.8 L1184.8,2037.1 L1184.9,2040.5 L1185.1,2043.9 L1185.2,2047.3 L1185.4,2050.6 L1185.5,2054.0 L1185.7,2057.4 L1185.9,2060.8 L1186.1,2064.1 L1186.2,2067.5 L1186.4,2070.9 L1186.6,2074.3 L1186.8,2077.6 L1187.0,2081.0 L1187.3,2084.4 L1187.5,2087.8 L1187.7,2091.1 L1188.0,2094.5 L1188.2,2097.9 L1188.5,2101.3 L1188.7,2104.6 L1189.0,2108.0 L1189.3,2111.4 L1189.6,2114.7 L1189.8,2118.1 L1190.1,2121.5 L1190.4,2124.9 L1190.8,2128.2 L1191.1,2131.6 L1191.4,2135.0 L1191.7,2138.3 L1192.1,2141.7 L1192.4,2145.1 L1192.8,2148.5 L1193.1,2151.8 L1193.5,2155.2 L1193.9,2158.6 L1194.3,2161.9 L1194.7,2165.3 L1195.1,2168.7 L1195.5,2172.0 L1195.9,2175.4 L1196.3,2178.8 L1196.8,2182.1 L1197.2,2185.5 L1197.7,2188.8 L1198.1,2192.2 L1198.6,2195.6 L1199.1,2198.9 L1199.6,2202.3 L1200.1,2205.6 L1200.6,2209.0 L1201.1,2212.4 L1201.6,2215.7 L1202.2,2219.1 L1202.7,2222.4 L1203.3,2225.8 L1203.8,2229.1 L1204.4,2232.4 L1205.0,2235.8 L1205.7,2239.1 L1206.3,2242.4 L1206.9,2245.8 L1207.6,2249.1 L1208.3,2252.4 L1208.9,2255.7 L1209.6,2259.0 L1210.4,2262.4 L1211.1,2265.7 L1211.8,2269.0 L1212.6,2272.3 L1213.4,2275.5 L1214.2,2278.8 L1215.0,2282.1 L1215.8,2285.4 L1216.7,2288.7 L1217.5,2291.9 L1218.4,2295.2 L1219.3,2298.4 L1220.2,2301.7 L1221.2,2304.9 L1222.1,2308.1 L1223.1,2311.4 L1224.1,2314.6 L1225.1,2317.8 L1226.1,2321.0 L1227.2,2324.2 L1228.3,2327.4 L1229.4,2330.6 L1230.5,2333.8 L1231.6,2336.9 L1232.8,2340.1 L1234.0,2343.2 L1235.2,2346.4 L1236.4,2349.5 L1237.7,2352.6 L1239.0,2355.8 L1240.3,2358.9 L1241.6,2362.0 L1243.0,2365.1 L1244.3,2368.1 L1245.7,2371.2 L1247.2,2374.3 L1248.6,2377.3 L1250.1,2380.4 L1251.6,2383.4 L1253.1,2386.4 L1254.7,2389.4 L1256.3,2392.4 L1257.9,2395.4 L1259.5,2398.4 L1261.2,2401.4 L1262.8,2404.3 L1264.5,2407.3 L1266.2,2410.2 L1268.0,2413.1 L1269.7,2416.0 L1271.5,2418.9 L1273.2,2421.8 L1275.0,2424.7 L1276.8,2427.6 L1278.7,2430.4 L1280.5,2433.3 L1282.3,2436.1 L1284.2,2438.9 L1286.1,2441.7 L1288.0,2444.5 L1289.9,2447.3 L1291.8,2450.1 L1293.8,2452.8 L1295.7,2455.6 L1297.7,2458.3 L1299.7,2461.0 L1301.8,2463.7 L1303.8,2466.4 L1305.9,2469.1 L1308.0,2471.7 L1310.1,2474.3 L1312.2,2477.0 L1314.4,2479.6 L1316.5,2482.1 L1318.7,2484.7 L1320.9,2487.3 L1323.2,2489.8 L1325.5,2492.3 L1327.7,2494.8 L1330.0,2497.3 L1332.4,2499.7 L1334.7,2502.2 L1337.1,2504.6 L1339.5,2507.0 L1341.9,2509.3 L1344.3,2511.7 L1346.8,2514.0 L1349.2,2516.3 L1351.7,2518.6 L1354.2,2520.9 L1356.8,2523.1 L1359.3,2525.3 L1361.9,2527.5 L1364.5,2529.7 L1367.1,2531.8 L1369.7,2533.9 L1372.4,2536.0 L1375.1,2538.1 L1377.8,2540.1 L1380.5,2542.1 L1383.2,2544.1 L1385.9,2546.1 L1388.7,2548.0 L1391.5,2549.9 L1394.3,2551.8 L1397.1,2553.6 L1400.0,2555.4 L1402.8,2557.2 L1405.7,2559.0 L1408.6,2560.7 L1411.5,2562.4 L1414.5,2564.0 L1417.4,2565.7 L1420.4,2567.3 L1423.4,2568.8 L1426.4,2570.4 L1429.4,2571.9 L1432.4,2573.3 L1435.5,2574.8 L1438.6,2576.2 L1441.6,2577.5 L1444.8,2578.9 L1447.9,2580.2 L1451.0,2581.4 L1454.2,2582.7 L1457.4,2583.8 L1460.5,2585.0 L1463.8,2586.1 L1467.0,2587.2 L1470.2,2588.2 L1473.5,2589.2 L1476.8,2590.2 L1480.0,2589.2 L1483.3,2588.2 L1486.5,2587.2 L1489.7,2586.1 L1493.0,2585.0 L1496.1,2583.8 L1499.3,2582.7 L1502.5,2581.4 L1505.6,2580.2 L1508.7,2578.9 L1511.9,2577.5 L1514.9,2576.2 L1518.0,2574.8 L1521.1,2573.3 L1524.1,2571.9 L1527.1,2570.4 L1530.1,2568.8 L1533.1,2567.3 L1536.1,2565.7 L1539.0,2564.0 L1542.0,2562.4 L1544.9,2560.7 L1547.8,2559.0 L1550.7,2557.2 L1553.5,2555.4 L1556.4,2553.6 L1559.2,2551.8 L1562.0,2549.9 L1564.8,2548.0 L1567.6,2546.1 L1570.3,2544.1 L1573.0,2542.1 L1575.7,2540.1 L1578.4,2538.1 L1581.1,2536.0 L1583.8,2533.9 L1586.4,2531.8 L1589.0,2529.7 L1591.6,2527.5 L1594.2,2525.3 L1596.7,2523.1 L1599.3,2520.9 L1601.8,2518.6 L1604.3,2516.3 L1606.7,2514.0 L1609.2,2511.7 L1611.6,2509.3 L1614.0,2507.0 L1616.4,2504.6 L1618.8,2502.2 L1621.1,2499.7 L1623.5,2497.3 L1625.8,2494.8 L1628.0,2492.3 L1630.3,2489.8 L1632.6,2487.3 L1634.8,2484.7 L1637.0,2482.1 L1639.1,2479.6 L1641.3,2477.0 L1643.4,2474.3 L1645.5,2471.7 L1647.6,2469.1 L1649.7,2466.4 L1651.7,2463.7 L1653.8,2461.0 L1655.8,2458.3 L1657.8,2455.6 L1659.7,2452.8 L1661.7,2450.1 L1663.6,2447.3 L1665.5,2444.5 L1667.4,2441.7 L1669.3,2438.9 L1671.2,2436.1 L1673.0,2433.3 L1674.8,2430.4 L1676.7,2427.6 L1678.5,2424.7 L1680.3,2421.8 L1682.0,2418.9 L1683.8,2416.0 L1685.5,2413.1 L1687.3,2410.2 L1689.0,2407.3 L1690.7,2404.3 L1692.3,2401.4 L1694.0,2398.4 L1695.6,2395.4 L1697.2,2392.4 L1698.8,2389.4 L1700.4,2386.4 L1701.9,2383.4 L1703.4,2380.4 L1704.9,2377.3 L1706.3,2374.3 L1707.8,2371.2 L1709.2,2368.1 L1710.5,2365.1 L1711.9,2362.0 L1713.2,2358.9 L1714.5,2355.8 L1715.8,2352.6 L1717.1,2349.5 L1718.3,2346.4 L1719.5,2343.2 L1720.7,2340.1 L1721.9,2336.9 L1723.0,2333.8 L1724.1,2330.6 L1725.2,2327.4 L1726.3,2324.2 L1727.4,2321.0 L1728.4,2317.8 L1729.4,2314.6 L1730.4,2311.4 L1731.4,2308.1 L1732.3,2304.9 L1733.3,2301.7 L1734.2,2298.4 L1735.1,2295.2 L1736.0,2291.9 L1736.8,2288.7 L1737.7,2285.4 L1738.5,2282.1 L1739.3,2278.8 L1740.1,2275.5 L1740.9,2272.3 L1741.7,2269.0 L1742.4,2265.7 L1743.1,2262.4 L1743.9,2259.0 L1744.6,2255.7 L1745.2,2252.4 L1745.9,2249.1 L1746.6,2245.8 L1747.2,2242.4 L1747.8,2239.1 L1748.5,2235.8 L1749.1,2232.4 L1749.7,2229.1 L1750.2,2225.8 L1750.8,2222.4 L1751.3,2219.1 L1751.9,2215.7 L1752.4,2212.4 L1752.9,2209.0 L1753.4,2205.6 L1753.9,2202.3 L1754.4,2198.9 L1754.9,2195.6 L1755.4,2192.2 L1755.8,2188.8 L1756.3,2185.5 L1756.7,2182.1 L1757.2,2178.8 L1757.6,2175.4 L1758.0,2172.0 L1758.4,2168.7 L1758.8,2165.3 L1759.2,2161.9 L1759.6,2158.6 L1760.0,2155.2 L1760.4,2151.8 L1760.7,2148.5 L1761.1,2145.1 L1761.4,2141.7 L1761.8,2138.3 L1762.1,2135.0 L1762.4,2131.6 L1762.7,2128.2 L1763.1,2124.9 L1763.4,2121.5 L1763.7,2118.1 L1763.9,2114.7 L1764.2,2111.4 L1764.5,2108.0 L1764.8,2104.6 L1765.0,2101.3 L1765.3,2097.9 L1765.5,2094.5 L1765.8,2091.1 L1766.0,2087.8 L1766.2,2084.4 L1766.5,2081.0 L1766.7,2077.6 L1766.9,2074.3 L1767.1,2070.9 L1767.3,2067.5 L1767.4,2064.1 L1767.6,2060.8 L1767.8,2057.4 L1768.0,2054.0 L1768.1,2050.6 L1768.3,2047.3 L1768.4,2043.9 L1768.6,2040.5 L1768.7,2037.1 L1768.8,2033.8 L1769.0,2030.4 L1769.1,2027.0 L1769.2,2023.6 L1769.3,2020.2 L1769.4,2016.9 L1769.5,2013.5 L1769.6,2010.1 L1769.7,2006.7 L1769.7,2003.4 L1769.8,2000.0 L1769.9,1996.6 L1769.9,1993.2 L1770.0,1989.8 L1770.0,1986.5 L1770.1,1983.1 L1770.1,1979.7 L1770.1,1976.3 L1770.2,1973.0 L1770.2,1969.6 L1770.2,1966.2 L1770.2,1962.8 L1770.2,1959.4 L1770.2,1956.1 L1770.2,1952.7 L1770.2,1949.3 L1770.2,1945.9 L1770.2,1942.5 L1770.2,1939.2 L1770.1,1935.8 L1770.1,1932.4 L1770.1,1929.0 L1770.0,1925.7 L1770.0,1922.3 L1769.9,1918.9 L1769.9,1915.5 L1769.8,1912.1 L1769.7,1908.8 L1769.7,1905.4 L1769.6,1902.0 L1769.5,1898.6 L1769.4,1895.2 L1769.4,1891.9 L1769.3,1888.5 L1769.2,1885.1 L1769.1,1881.7 L1769.0,1878.4 L1768.9,1875.0 L1768.8,1871.6 L1768.6,1868.2 L1768.5,1864.8 L1768.4,1861.5 L1768.3,1858.1 L1768.2,1854.7 L1768.0,1851.3 L1767.9,1848.0 L1767.7,1844.6 L1767.6,1841.2 L1767.5,1837.8 L1767.3,1834.5 L1767.1,1831.1 L1767.0,1827.7 L1766.8,1824.3 L1766.7,1821.0 L1766.5,1817.6 L1766.3,1814.2 L1766.1,1810.8 L1766.0,1807.5 L1765.8,1804.1 L1765.6,1800.7 L1765.4,1797.3 L1765.2,1794.0 L1765.0,1790.6 L1764.8,1787.2 L1764.6,1783.8 L1764.4,1780.5 L1764.2,1777.1 L1764.0,1773.7 L1763.7,1770.3 L1763.5,1767.0 L1763.3,1763.6 L1763.1,1760.2 L1762.8,1756.9 L1762.6,1753.5 L1762.3,1750.1 L1762.1,1746.7 L1761.8,1743.4 L1761.6,1740.0 L1761.3,1736.6 L1761.1,1733.3 L1760.8,1729.9 L1760.5,1726.5 L1760.3,1723.2 L1760.0,1719.8 L1759.7,1716.4 L1759.4,1713.1 L1759.1,1709.7 L1758.9,1706.3 L1758.6,1703.0 L1758.3,1699.6 L1758.0,1696.2 L1757.7,1692.9 L1757.4,1689.5 L1757.0,1686.1 L1756.7,1682.8 L1756.4,1679.4 L1756.1,1676.0 L1755.8,1672.7 L1755.4,1669.3 L1755.1,1665.9 L1754.8,1662.6 L1754.4,1659.2 L1754.1,1655.8 L1753.7,1652.5 L1753.4,1649.1 L1753.0,1645.8 L1752.7,1642.4 L1752.3,1639.0 L1752.0,1635.7 L1751.6,1632.3 L1751.2,1629.0 L1750.8,1625.6 L1750.5,1622.2 L1750.1,1618.9 L1749.7,1615.5 L1749.3,1612.2 L1748.9,1608.8 L1748.5,1605.5 L1748.1,1602.1 L1747.7,1598.7 L1747.3,1595.4 L1746.9,1592.0 L1746.5,1588.7 L1746.1,1585.3 L1745.7,1582.0 L1745.2,1578.6 L1744.8,1575.3 L1744.4,1571.9 L1744.0,1568.5 L1743.5,1565.2 L1743.1,1561.8 L1742.6,1558.5 L1742.2,1555.1 L1741.7,1551.8 L1741.3,1548.4 L1740.8,1545.1 L1740.4,1541.7 L1739.9,1538.4 L1739.4,1535.0 L1739.0,1531.7 L1738.5,1528.3 L1738.0,1525.0 L1737.5,1521.6 L1737.0,1518.3 L1736.6,1515.0 L1736.1,1511.6 L1735.6,1508.3 L1735.1,1504.9 L1734.6,1501.6 L1734.1,1498.2 L1733.6,1494.9 L1733.1,1491.5 L1732.5,1488.2 L1732.0,1484.9 L1731.5,1481.5 L1731.0,1478.2 L1730.5,1474.8 L1729.9,1471.5 L1729.4,1468.2 L1728.8,1464.8 L1728.3,1461.5 L1727.8,1458.1 L1727.2,1454.8 L1726.7,1451.5 L1726.1,1448.1 L1725.6,1444.8 L1725.0,1441.5 L1724.4,1438.1 L1723.9,1434.8 L1723.3,1431.5 L1722.7,1428.1 L1722.1,1424.8 L1721.5,1421.5 L1721.0,1418.1 L1720.4,1414.8 L1719.8,1411.5 L1719.2,1408.1 L1718.6,1404.8 L1718.0,1401.5 L1717.4,1398.2 L1716.8,1394.8 L1716.2,1391.5 L1715.5,1388.2 L1714.9,1384.9 L1714.3,1381.5 L1713.7,1378.2 L1713.0,1374.9 L1712.4,1371.6 L1711.8,1368.2 L1711.1,1364.9 L1710.5,1361.6 L1709.8,1358.3 L1709.2,1355.0 L1708.5,1351.6 L1707.8,1348.3 L1707.2,1345.0 L1706.5,1341.7 L1705.8,1338.4 L1705.2,1335.1 L1704.5,1331.8 L1703.8,1328.5 L1703.1,1325.1 L1702.4,1321.8 L1701.7,1318.5 L1701.0,1315.2 L1700.3,1311.9 L1699.6,1308.6 L1698.9,1305.3 L1698.2,1302.0 L1697.5,1298.7 L1696.8,1295.4 L1696.0,1292.1 L1695.3,1288.8 L1694.6,1285.5 L1693.8,1282.2 L1693.1,1278.9 L1692.4,1275.6 L1691.6,1272.3 L1690.9,1269.0 L1690.1,1265.7 L1689.4,1262.4 L1688.6,1259.1 L1687.8,1255.8 L1687.1,1252.5 L1686.3,1249.2 L1685.5,1245.9 L1684.7,1242.6 L1683.9,1239.4 L1683.1,1236.1 L1682.4,1232.8 L1681.6,1229.5 L1680.8,1226.2 L1679.9,1222.9 L1679.1,1219.6 L1678.3,1216.4 L1677.5,1213.1 L1676.7,1209.8 L1675.9,1206.5 L1675.0,1203.3 L1674.2,1200.0 L1673.4,1196.7 L1672.5,1193.4 L1671.7,1190.2 L1670.8,1186.9 L1670.0,1183.6 L1669.1,1180.4 L1668.2,1177.1 L1667.4,1173.8 L1666.5,1170.6 L1665.6,1167.3 L1664.8,1164.0 L1663.9,1160.8 L1663.0,1157.5 L1662.1,1154.2 L1661.2,1151.0 L1660.3,1147.7 L1659.4,1144.5 L1658.5,1141.2 L1657.6,1138.0 L1656.7,1134.7 L1655.7,1131.5 L1654.8,1128.2 L1653.9,1125.0 L1653.0,1121.7 L1652.0,1118.5 L1651.1,1115.2 L1650.1,1112.0 L1649.2,1108.7 L1648.2,1105.5 L1647.3,1102.2 L1646.3,1099.0 L1645.3,1095.8 L1644.4,1092.5 L1643.4,1089.3 L1642.4,1086.1 L1641.4,1082.8 L1640.4,1079.6 L1639.4,1076.4 L1638.4,1073.1 L1637.4,1069.9 L1636.4,1066.7 L1635.4,1063.5 L1634.4,1060.2 L1633.4,1057.0 L1632.4,1053.8 L1631.3,1050.6 L1630.3,1047.4 L1629.3,1044.1 L1628.2,1040.9 L1627.2,1037.7 L1626.1,1034.5 L1625.1,1031.3 L1624.0,1028.1 L1623.0,1024.9 L1621.9,1021.7 L1620.8,1018.5 L1619.7,1015.3 L1618.7,1012.1 L1617.6,1008.9 L1616.5,1005.7 L1615.4,1002.5 L1614.3,999.3 L1613.2,996.1 L1612.1,992.9 L1611.0,989.7 L1609.8,986.5 L1608.7,983.3 L1607.6,980.1 L1606.5,976.9 L1605.3,973.7 L1604.2,970.6 L1603.0,967.4 L1601.9,964.2 L1600.7,961.0 L1599.6,957.8 L1598.4,954.7 L1597.2,951.5 L1596.0,948.3 L1594.9,945.2 L1593.7,942.0 L1592.5,938.8 L1591.3,935.7 L1590.0,932.5 L1588.8,929.4 L1587.6,926.2 L1586.4,923.1 L1585.1,919.9 L1583.9,916.8 L1582.6,913.6 L1581.4,910.5 L1580.1,907.4 L1578.8,904.2 L1577.5,901.1 L1576.3,898.0 L1575.0,894.9 L1573.6,891.8 L1572.3,888.6 L1571.0,885.5 L1569.7,882.4 L1568.3,879.3 L1567.0,876.2 L1565.6,873.1 L1564.2,870.0 L1562.9,867.0 L1561.5,863.9 L1560.1,860.8 L1558.7,857.7 L1557.2,854.7 L1555.8,851.6 L1554.4,848.5 L1552.9,845.5 L1551.5,842.4 L1550.0,839.4 L1548.5,836.3 L1547.0,833.3 L1545.5,830.3 L1544.0,827.2 L1542.5,824.2 L1540.9,821.2 L1539.4,818.2 L1537.8,815.2 L1536.3,812.2 L1534.7,809.2 L1533.1,806.2 L1531.5,803.2 L1529.9,800.2 L1528.2,797.3 L1526.6,794.3 L1524.9,791.3 L1523.2,788.4 L1521.6,785.4 L1519.9,782.5 L1518.1,779.6 L1516.4,776.6 L1514.7,773.7 L1512.9,770.8 L1511.1,767.9 L1509.3,765.0 L1507.5,762.2 L1505.6,759.4 L1503.6,756.8 L1501.5,754.2 L1499.3,751.7 L1497.1,749.4 L1494.6,747.2 L1492.1,745.2 L1489.4,743.4 L1486.5,741.8 L1483.5,740.4 L1480.2,739.3 L1476.8,738.4" fill="none" stroke="#0000ff" stroke-width="14.9" stroke-linejoin="round" stroke-linecap="round"/>
<text transform="translate(1477.02,261.40) scale(0.981,1.03)">5</text>
<text transform="translate(1566.04,261.40) scale(0.953,1.03)">0</text>
<text transform="translate(1654.64,261.40) scale(0.953,1.03)">0</text>
<text transform="translate(1477.02,1147.40) scale(0.981,1.03)">5</text>
<text transform="translate(1566.04,1147.40) scale(0.953,1.03)">0</text>
<text transform="translate(1654.64,1147.40) scale(0.953,1.03)">0</text>
<path transform="translate(1535.93,1590.40)" d="M-9.03,-114.6 L0,-114.6 L0,0 L-13.97,0 L-13.97,-89.4 Q-28,-78 -41.63,-72.8 L-41.63,-86.2 Q-20,-94 -9.03,-114.6 Z" fill="#000"/>
<text transform="translate(1566.04,1590.40) scale(0.953,1.03)">0</text>
<text transform="translate(1654.24,1590.40) scale(0.953,1.03)">0</text>
<text transform="translate(1742.54,1590.40) scale(0.953,1.03)">0</text>
<path transform="translate(1535.93,2033.40)" d="M-9.03,-114.6 L0,-114.6 L0,0 L-13.97,0 L-13.97,-89.4 Q-28,-78 -41.63,-72.8 L-41.63,-86.2 Q-20,-94 -9.03,-114.6 Z" fill="#000"/>
<text transform="translate(1565.52,2033.40) scale(0.981,1.03)">5</text>
<text transform="translate(1653.84,2033.40) scale(0.953,1.03)">0</text>
<text transform="translate(1742.44,2033.40) scale(0.953,1.03)">0</text>
<text transform="translate(1473.48,2476.40) scale(1.022,1.03)">2</text>
<text transform="translate(1566.04,2476.40) scale(0.953,1.03)">0</text>
<text transform="translate(1654.24,2476.40) scale(0.953,1.03)">0</text>
<text transform="translate(1742.44,2476.40) scale(0.953,1.03)">0</text>
<text transform="translate(1473.48,2919.40) scale(1.022,1.03)">2</text>
<text transform="translate(1565.52,2919.40) scale(0.981,1.03)">5</text>
<text transform="translate(1653.84,2919.40) scale(0.953,1.03)">0</text>
<text transform="translate(1742.44,2919.40) scale(0.953,1.03)">0</text>
<text transform="translate(0,2888.8) scale(1,0.981)" x="2911" y="0" text-anchor="end">cd/klm</text>
<g fill="#000"><rect x="0" y="0" width="2953" height="4"/><rect x="0" y="0" width="4" height="2953"/><rect x="2950" y="0" width="3" height="2953"/><rect x="0" y="2950" width="2953" height="3"/></g>
</svg>
</body></html>
